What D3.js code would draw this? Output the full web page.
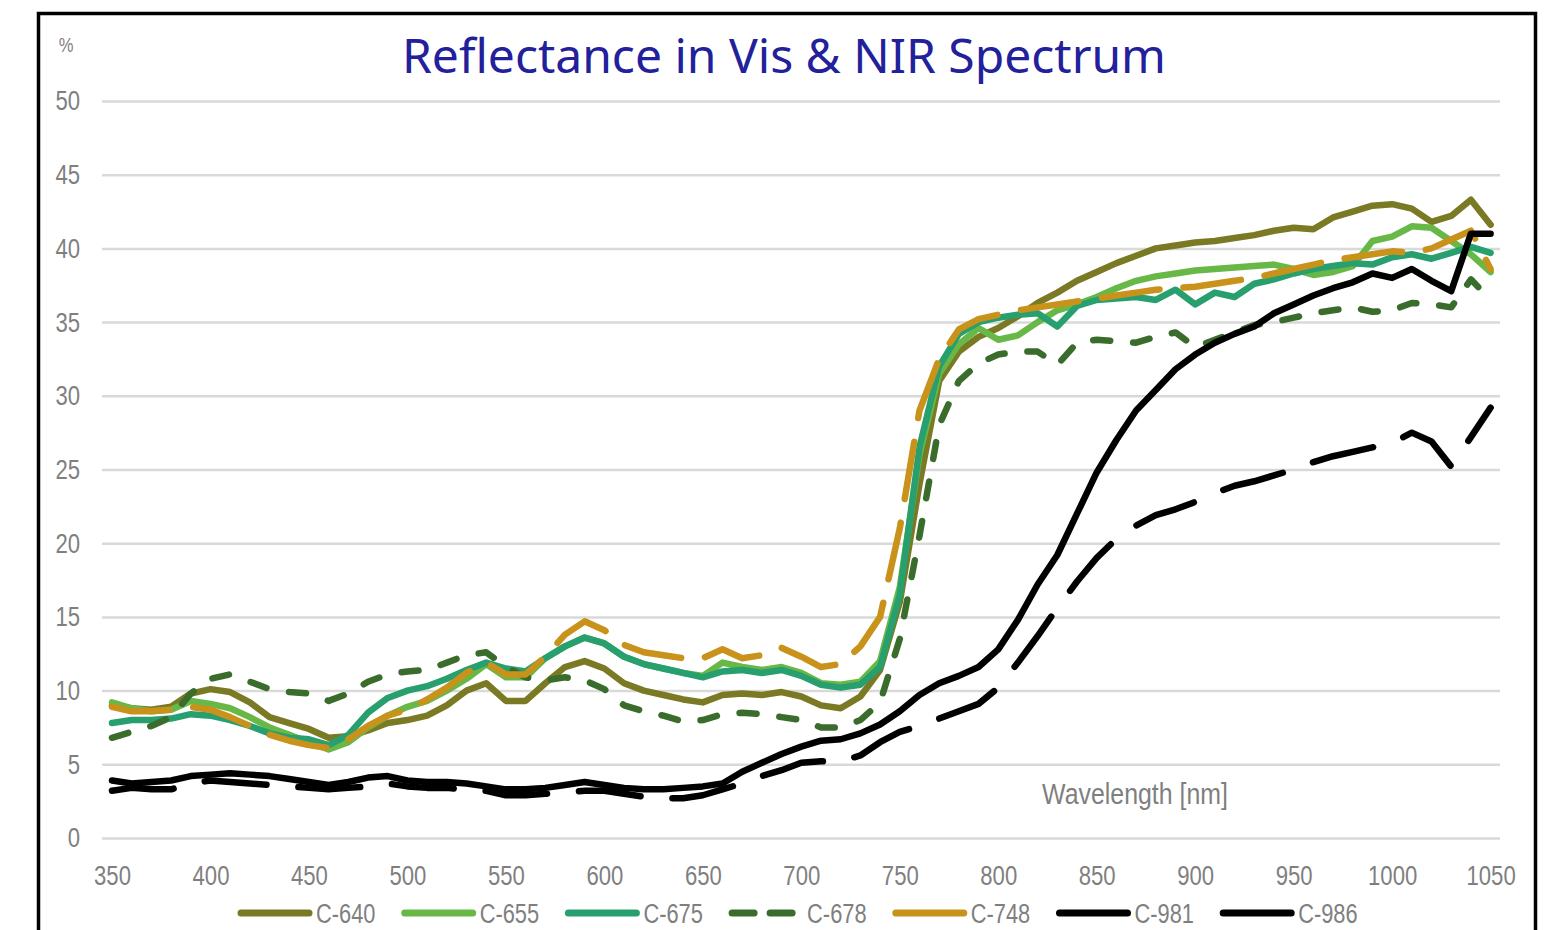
<!DOCTYPE html>
<html>
<head>
<meta charset="utf-8">
<script src="https://cdn.jsdelivr.net/npm/d3@7"></script>
<style>
  body { margin: 0; background: #fff; }
  svg text { font-family: 'Liberation Sans', Arial, sans-serif; }
</style>
</head>
<body>
<div id="chart"></div>
<script>
// wavelengths (nm), one sample every 10 nm
const wavelengths = [350, 360, 370, 380, 390, 400, 410, 420, 430, 440,
  450, 460, 470, 480, 490, 500, 510, 520, 530, 540,
  550, 560, 570, 580, 590, 600, 610, 620, 630, 640,
  650, 660, 670, 680, 690, 700, 710, 720, 730, 740,
  750, 760, 770, 780, 790, 800, 810, 820, 830, 840,
  850, 860, 870, 880, 890, 900, 910, 920, 930, 940,
  950, 960, 970, 980, 990, 1000, 1010, 1020, 1030, 1040, 1050];

// reflectance (%)
const c640 = [9.0, 8.8, 8.7, 8.9, 9.8, 10.1, 9.9, 9.2, 8.2, 7.8,
  7.4, 6.8, 6.9, 7.3, 7.8, 8.0, 8.3, 9.0, 10.0, 10.5,
  9.3, 9.3, 10.5, 11.6, 12.0, 11.5, 10.5, 10.0, 9.7, 9.4,
  9.2, 9.7, 9.8, 9.7, 9.9, 9.6, 9.0, 8.8, 9.6, 11.4,
  16.0, 24.0, 31.0, 33.0, 34.0, 34.6, 35.4, 36.3, 37.0, 37.8,
  38.4, 39.0, 39.5, 40.0, 40.2, 40.4, 40.5, 40.7, 40.9, 41.2,
  41.4, 41.3, 42.1, 42.5, 42.9, 43.0, 42.7, 41.8, 42.2, 43.3, 41.6];
const c655 = [9.2, 8.8, 8.6, 8.7, 9.3, 9.1, 8.8, 8.2, 7.5, 7.0,
  6.5, 6.0, 6.5, 7.5, 8.3, 8.9, 9.3, 10.0, 10.8, 11.8,
  10.9, 10.9, 12.2, 13.0, 13.6, 13.2, 12.3, 11.8, 11.5, 11.2,
  11.0, 11.9, 11.6, 11.4, 11.6, 11.2, 10.5, 10.4, 10.6, 12.0,
  17.0, 26.0, 31.5, 33.5, 34.6, 33.8, 34.1, 35.0, 35.8, 36.2,
  36.7, 37.3, 37.8, 38.1, 38.3, 38.5, 38.6, 38.7, 38.8, 38.9,
  38.6, 38.2, 38.4, 38.8, 40.5, 40.8, 41.5, 41.4, 40.5, 39.6, 38.4];
const c675 = [7.8, 8.0, 8.0, 8.1, 8.4, 8.3, 8.0, 7.6, 7.1, 6.8,
  6.7, 6.3, 7.0, 8.5, 9.5, 10.0, 10.3, 10.8, 11.4, 11.9,
  11.5, 11.3, 12.2, 13.0, 13.6, 13.2, 12.3, 11.8, 11.5, 11.2,
  10.9, 11.3, 11.4, 11.2, 11.4, 11.0, 10.4, 10.2, 10.4, 11.6,
  16.5, 26.5, 32.0, 34.2, 35.0, 35.3, 35.5, 35.6, 34.7, 36.1,
  36.5, 36.6, 36.7, 36.5, 37.2, 36.2, 37.0, 36.7, 37.6, 37.9,
  38.3, 38.6, 38.8, 39.0, 38.9, 39.4, 39.6, 39.3, 39.7, 40.1, 39.7];
const c678 = [6.8, 7.2, 7.6, 8.2, 9.8, 10.8, 11.1, 10.6, 10.1, 9.9,
  9.8, 9.3, 9.8, 10.6, 11.1, 11.3, 11.4, 11.9, 12.4, 12.6,
  11.6, 10.9, 10.7, 10.9, 10.7, 10.1, 9.0, 8.6, 8.3, 7.9,
  8.0, 8.4, 8.5, 8.4, 8.2, 8.0, 7.5, 7.5, 8.0, 9.2,
  13.5, 20.5, 28.0, 31.0, 32.2, 32.8, 33.0, 33.0, 32.1, 33.6,
  33.8, 33.7, 33.6, 34.0, 34.3, 33.3, 33.8, 34.3, 34.8, 35.0,
  35.3, 35.6, 35.8, 36.0, 35.7, 35.8, 36.3, 36.2, 36.0, 37.9, 36.5];
const c748 = [8.9, 8.6, 8.6, 8.7, 8.9, 8.7, 8.2, 7.6, 7.0, 6.6,
  6.3, 6.1, 6.7, 7.6, 8.3, 8.7, 9.4, 10.2, 11.2, 11.9,
  11.1, 11.1, 12.3, 13.8, 14.7, 14.1, 13.1, 12.6, 12.4, 12.2,
  12.2, 12.8, 12.2, 12.4, 12.9, 12.3, 11.6, 11.8, 13.0, 15.0,
  21.0, 29.0, 32.5, 34.5, 35.2, 35.5, 35.8, 36.0, 36.2, 36.4,
  36.6, 36.8, 37.0, 37.2, 37.3, 37.4, 37.6, 37.8, 38.0, 38.3,
  38.6, 38.9, 39.2, 39.4, 39.6, 39.8, 39.7, 40.0, 40.6, 41.2, 38.6];
const c981 = [3.9, 3.7, 3.8, 3.9, 4.2, 4.3, 4.4, 4.3, 4.2, 4.0,
  3.8, 3.6, 3.8, 4.1, 4.2, 3.9, 3.8, 3.8, 3.7, 3.5,
  3.3, 3.3, 3.4, 3.6, 3.8, 3.6, 3.4, 3.3, 3.3, 3.4,
  3.5, 3.7, 4.5, 5.1, 5.7, 6.2, 6.6, 6.7, 7.1, 7.7,
  8.6, 9.7, 10.5, 11.0, 11.6, 12.8, 14.8, 17.2, 19.2, 22.0,
  24.8, 27.0, 29.0, 30.4, 31.8, 32.8, 33.6, 34.2, 34.7, 35.6,
  36.2, 36.8, 37.3, 37.7, 38.3, 38.0, 38.6, 37.8, 37.1, 41.0, 41.0];
const c986 = [3.2, 3.4, 3.3, 3.3, 3.7, 3.9, 3.8, 3.7, 3.6, 3.5,
  3.4, 3.3, 3.4, 3.5, 3.7, 3.5, 3.4, 3.4, 3.3, 3.2,
  2.9, 2.9, 3.0, 3.1, 3.2, 3.2, 3.0, 2.8, 2.7, 2.7,
  2.9, 3.3, 3.7, 4.2, 4.6, 5.1, 5.2, 5.2, 5.6, 6.5,
  7.2, 7.6, 8.1, 8.6, 9.1, 10.2, 11.9, 13.7, 15.6, 17.4,
  19.0, 20.3, 21.2, 21.9, 22.3, 22.8, 23.4, 23.9, 24.2, 24.6,
  25.0, 25.5, 25.9, 26.2, 26.5, 26.8, 27.5, 26.9, 25.2, 27.2, 29.2];

const xTicks = [350, 400, 450, 500, 550, 600, 650, 700, 750, 800, 850, 900, 950, 1000, 1050];
const yTicks = [0, 5, 10, 15, 20, 25, 30, 35, 40, 45, 50];

const series = [
  { name: "C-640", values: c640, color: "#7a7a24", dash: null },
  { name: "C-655", values: c655, color: "#68b848", dash: null },
  { name: "C-675", values: c675, color: "#279f6e", dash: null },
  { name: "C-678", values: c678, color: "#3a6c2b", dash: "17 23" },
  { name: "C-748", values: c748, color: "#c9921b", dash: "58 24" },
  { name: "C-981", values: c981, color: "#000000", dash: null },
  { name: "C-986", values: c986, color: "#000000", dash: "62 32" }
];

const W = 1547, H = 930;
const narrow = 0.79; // horizontal squeeze to imitate the condensed font
const svg = d3.select("#chart").append("svg")
  .attr("width", W).attr("height", H);

// outer frame
svg.append("rect")
  .attr("x", 38.5).attr("y", 13.5)
  .attr("width", 1497).attr("height", 940)
  .attr("fill", "none").attr("stroke", "#000").attr("stroke-width", 3.5);

const x = d3.scaleLinear().domain([350, 1050]).range([112, 1490.6]);
const y = d3.scaleLinear().domain([0, 50]).range([838, 101]);

// Y axis + gridlines
const gy = svg.append("g")
  .attr("transform", "translate(102,0)")
  .call(d3.axisLeft(y).tickValues(yTicks).tickSize(-1398).tickPadding(22));
gy.select(".domain").remove();
gy.selectAll(".tick line").attr("stroke", "#d9d9d9").attr("stroke-width", 2.5);
gy.selectAll(".tick text")
  .attr("x", -22 / narrow)
  .attr("transform", `scale(${narrow},1)`)
  .attr("fill", "#7f7f7f").style("font-size", "28px");

// X axis (labels only)
const gx = svg.append("g")
  .attr("transform", "translate(0,838)")
  .call(d3.axisBottom(x).tickValues(xTicks).tickSize(0).tickFormat(d3.format("d")));
gx.select(".domain").remove();
gx.selectAll(".tick text")
  .attr("y", 37).attr("dy", "0.35em")
  .attr("transform", `scale(${narrow},1)`)
  .attr("fill", "#7f7f7f").style("font-size", "28px");

// lines
const line = d3.line()
  .x((d, i) => x(wavelengths[i]))
  .y(d => y(d));

series.forEach(s => {
  svg.append("path")
    .datum(s.values)
    .attr("fill", "none")
    .attr("stroke", s.color)
    .attr("stroke-width", 6.5)
    .attr("stroke-linejoin", "round")
    .attr("stroke-linecap", "round")
    .attr("stroke-dasharray", s.dash)
    .attr("d", line);
});

// titles
svg.append("text")
  .attr("x", 784).attr("y", 73)
  .attr("text-anchor", "middle")
  .style("font-family", "'Noto Sans', sans-serif")
  .style("font-size", "48px")
  .attr("fill", "#22209a")
  .text("Reflectance in Vis & NIR Spectrum");

svg.append("text")
  .attr("transform", `translate(66,52) scale(${narrow},1)`)
  .attr("text-anchor", "middle")
  .attr("fill", "#7f7f7f")
  .style("font-size", "21px")
  .text("%");

svg.append("text")
  .attr("transform", `translate(1135,804) scale(0.83,1)`)
  .attr("text-anchor", "middle")
  .attr("fill", "#7f7f7f")
  .style("font-size", "30px")
  .text("Wavelength [nm]");

// legend
const legend = svg.append("g").attr("transform", "translate(241,913)");
series.forEach((s, i) => {
  const g = legend.append("g").attr("transform", `translate(${i * 163.7},0)`);
  g.append("line")
    .attr("x1", 0).attr("x2", 68)
    .attr("stroke", s.color)
    .attr("stroke-width", 7)
    .attr("stroke-linecap", "round")
    .attr("stroke-dasharray", s.name === "C-678" ? "22 16" : null);
  g.append("text")
    .attr("transform", `translate(75,0) scale(0.78,1)`)
    .attr("dy", "0.35em")
    .attr("fill", "#7f7f7f")
    .style("font-size", "28px")
    .text(s.name);
});
</script>
</body>
</html>
